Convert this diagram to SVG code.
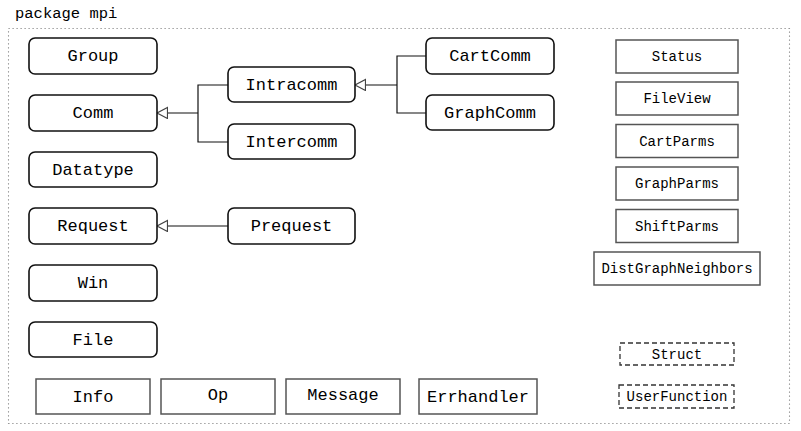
<svg xmlns="http://www.w3.org/2000/svg" width="801" height="431" viewBox="0 0 801 431">
<style>
text{font-family:"Liberation Mono","DejaVu Sans Mono",monospace;fill:#000;text-anchor:middle}
.big{font-size:17px}
.sm{font-size:14px}
.title{font-size:15.5px;text-anchor:start}
.rnd{fill:#fff;stroke:#111;stroke-width:1.6}
.sq{fill:#fff;stroke:#555;stroke-width:1.5}
.dash{fill:#fff;stroke:#333;stroke-width:1.3;stroke-dasharray:5 3}
.pkg{fill:none;stroke:#888;stroke-width:1.1;stroke-dasharray:1.2 2.8}
.conn path{fill:none;stroke:#111;stroke-width:1.2}
</style>
<defs>
<marker id="tri" markerUnits="userSpaceOnUse" markerWidth="14" markerHeight="14" refX="11" refY="6" orient="auto">
<path d="M11,6 L0.5,0.5 L0.5,11.5 Z" fill="#fff" stroke="#444" stroke-width="1.2"/>
</marker>
</defs>
<rect width="801" height="431" fill="#fff"/>
<text class="title" x="15" y="18">package mpi</text>
<rect class="pkg" x="8.5" y="28.5" width="781" height="395"/>

<g class="conn" id="connectors">
<path d="M198,113 L157,113" marker-end="url(#tri)"/>
<path d="M228,85 L198,85 L198,142 L228,142"/>
<path d="M397,85 L355,85" marker-end="url(#tri)"/>
<path d="M426,56 L397,56 L397,113 L426,113"/>
<path d="M228,226 L157,226" marker-end="url(#tri)"/>
</g>

<g id="Group"><rect class="rnd" x="29" y="38" width="128" height="36" rx="6"/><text class="big" x="93" y="61">Group</text></g>
<g id="Comm"><rect class="rnd" x="29" y="95" width="128" height="36" rx="6"/><text class="big" x="93" y="118">Comm</text></g>
<g id="Datatype"><rect class="rnd" x="29" y="152" width="128" height="35" rx="6"/><text class="big" x="93" y="175">Datatype</text></g>
<g id="Request"><rect class="rnd" x="29" y="208" width="128" height="36" rx="6"/><text class="big" x="93" y="231">Request</text></g>
<g id="Win"><rect class="rnd" x="29" y="265" width="128" height="36" rx="6"/><text class="big" x="93" y="288">Win</text></g>
<g id="File"><rect class="rnd" x="29" y="322" width="128" height="35" rx="6"/><text class="big" x="93" y="345">File</text></g>

<g id="Intracomm"><rect class="rnd" x="228" y="67" width="127" height="35" rx="6"/><text class="big" x="291.5" y="90">Intracomm</text></g>
<g id="Intercomm"><rect class="rnd" x="228" y="124" width="127" height="35" rx="6"/><text class="big" x="291.5" y="147">Intercomm</text></g>
<g id="Prequest"><rect class="rnd" x="228" y="208" width="127" height="36" rx="6"/><text class="big" x="291.5" y="231">Prequest</text></g>

<g id="CartComm"><rect class="rnd" x="426" y="38" width="128" height="36" rx="6"/><text class="big" x="490" y="61">CartComm</text></g>
<g id="GraphComm"><rect class="rnd" x="426" y="95" width="128" height="35" rx="6"/><text class="big" x="490" y="118">GraphComm</text></g>

<g id="Status"><rect class="sq" x="616" y="40" width="122" height="33"/><text class="sm" x="677" y="61">Status</text></g>
<g id="FileView"><rect class="sq" x="616" y="82" width="122" height="33"/><text class="sm" x="677" y="103">FileView</text></g>
<g id="CartParms"><rect class="sq" x="616" y="124.5" width="122" height="33"/><text class="sm" x="677" y="146">CartParms</text></g>
<g id="GraphParms"><rect class="sq" x="616" y="167" width="122" height="33"/><text class="sm" x="677" y="188">GraphParms</text></g>
<g id="ShiftParms"><rect class="sq" x="616" y="209.5" width="122" height="33"/><text class="sm" x="677" y="231">ShiftParms</text></g>
<g id="DistGraphNeighbors"><rect class="sq" x="594" y="252" width="166" height="33"/><text class="sm" x="677" y="273">DistGraphNeighbors</text></g>

<g id="Struct"><rect class="dash" x="620" y="343" width="114" height="22"/><text class="sm" x="677" y="359">Struct</text></g>
<g id="UserFunction"><rect class="dash" x="619" y="385" width="115" height="23"/><text class="sm" x="677" y="401">UserFunction</text></g>

<g id="Info"><rect class="sq" x="36" y="379" width="114" height="35"/><text class="big" x="93" y="402">Info</text></g>
<g id="Op"><rect class="sq" x="161" y="379" width="114" height="35"/><text class="big" x="218" y="400">Op</text></g>
<g id="Message"><rect class="sq" x="286" y="379" width="114" height="35"/><text class="big" x="343" y="400">Message</text></g>
<g id="Errhandler"><rect class="sq" x="419" y="379" width="118" height="35"/><text class="big" x="478" y="402">Errhandler</text></g>
</svg>
